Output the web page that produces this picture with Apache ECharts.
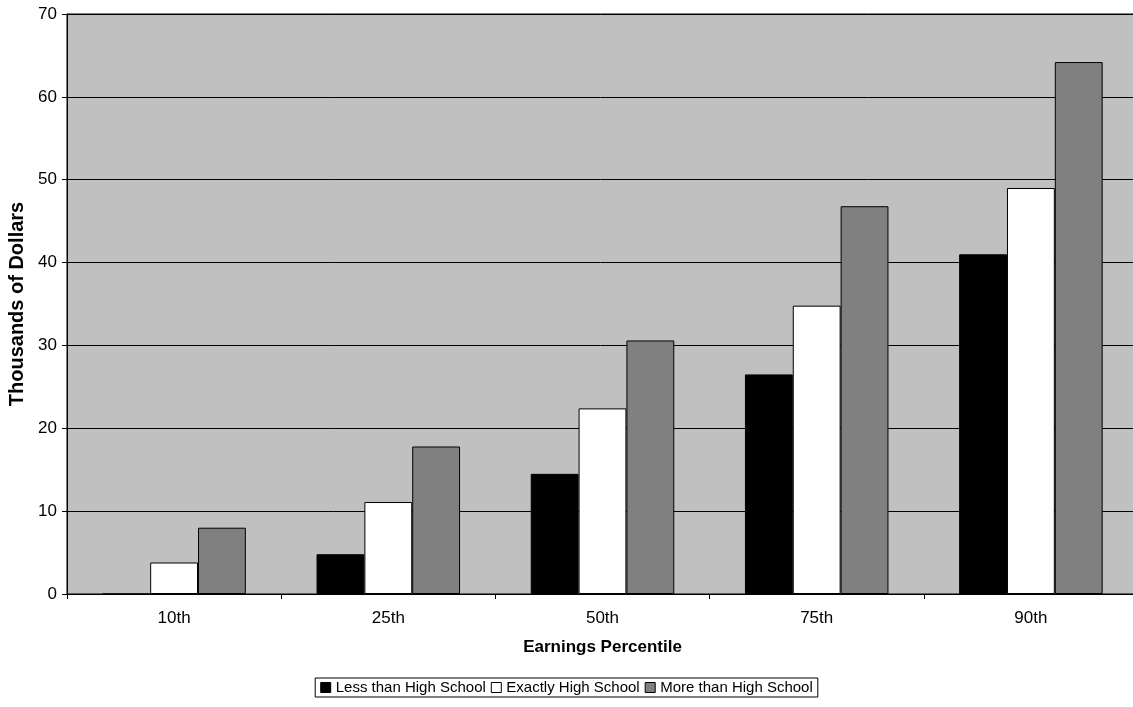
<!DOCTYPE html>
<html>
<head>
<meta charset="utf-8">
<script src="https://cdn.jsdelivr.net/npm/echarts@6/dist/echarts.min.js"></script>
<style>
  html, body { margin: 0; padding: 0; background: #ffffff; overflow: hidden; }
  #chart { width: 1133px; height: 707px; }
</style>
</head>
<body>
<div id="chart"></div>
<script>
// Earnings by education level at selected percentiles (thousands of dollars)
const percentiles = ['10th', '25th', '50th', '75th', '90th'];
const lessThanHS = [0, 4.8, 14.5, 26.5, 41.0];
const exactlyHS = [3.8, 11.1, 22.4, 34.8, 49.0];
const moreThanHS = [8.0, 17.8, 30.6, 46.8, 64.2];
const seriesNames = ['Less than High School', 'Exactly High School', 'More than High School'];
const seriesColors = ['#000000', '#ffffff', '#808080'];

const font = 'Liberation Sans, Arial, sans-serif';

const chart = echarts.init(document.getElementById('chart'), null, { renderer: 'canvas' });

const barSeries = [lessThanHS, exactlyHS, moreThanHS].map((vals, i) => ({
  name: seriesNames[i],
  type: 'bar',
  data: vals,
  barGap: '0%',
  barCategoryGap: '33%',
  itemStyle: { color: seriesColors[i], borderColor: '#000000', borderWidth: 1 },
  emphasis: { disabled: true }
}));

chart.setOption({
  animation: false,
  backgroundColor: '#ffffff',
  textStyle: { fontFamily: font },
  // the plot area runs slightly past the right edge of the canvas
  grid: {
    left: 67, width: 1071, top: 14, bottom: 113,
    outerBoundsMode: 'none',
    containLabel: false,
    show: true,
    backgroundColor: '#c0c0c0',
    borderColor: '#000000',
    borderWidth: 1
  },
  legend: {
    data: seriesNames,
    left: 'center',
    top: 678,
    orient: 'horizontal',
    icon: 'rect',
    itemWidth: 10,
    itemHeight: 10,
    itemGap: 5,
    padding: [2, 5, 2, 5],
    borderColor: '#000000',
    borderWidth: 1,
    textStyle: { fontFamily: font, fontSize: 15, color: '#000000' },
    itemStyle: { borderColor: '#000000', borderWidth: 1 },
    selectedMode: false
  },
  xAxis: {
    type: 'category',
    data: percentiles,
    name: 'Earnings Percentile',
    nameLocation: 'middle',
    nameGap: 45,
    nameTextStyle: { fontFamily: font, fontSize: 17, fontWeight: 'bold', color: '#000000' },
    axisLine: { lineStyle: { color: '#000000', width: 1 } },
    axisTick: { show: true, alignWithLabel: false, length: 5, lineStyle: { color: '#000000' } },
    axisLabel: { fontFamily: font, fontSize: 17, color: '#000000', margin: 16 },
    splitLine: { show: false }
  },
  yAxis: {
    type: 'value',
    min: 0,
    max: 70,
    interval: 10,
    name: 'Thousands of Dollars',
    nameLocation: 'middle',
    nameGap: 40,
    nameRotate: 90,
    nameTextStyle: { fontFamily: font, fontSize: 20, fontWeight: 'bold', color: '#000000' },
    axisLine: { show: true, lineStyle: { color: '#000000', width: 1 } },
    axisTick: { show: true, length: 5, lineStyle: { color: '#000000' } },
    axisLabel: { fontFamily: font, fontSize: 17, color: '#000000', margin: 10 },
    splitLine: { show: true, lineStyle: { color: '#000000', width: 1 } }
  },
  series: barSeries
});
</script>
</body>
</html>
